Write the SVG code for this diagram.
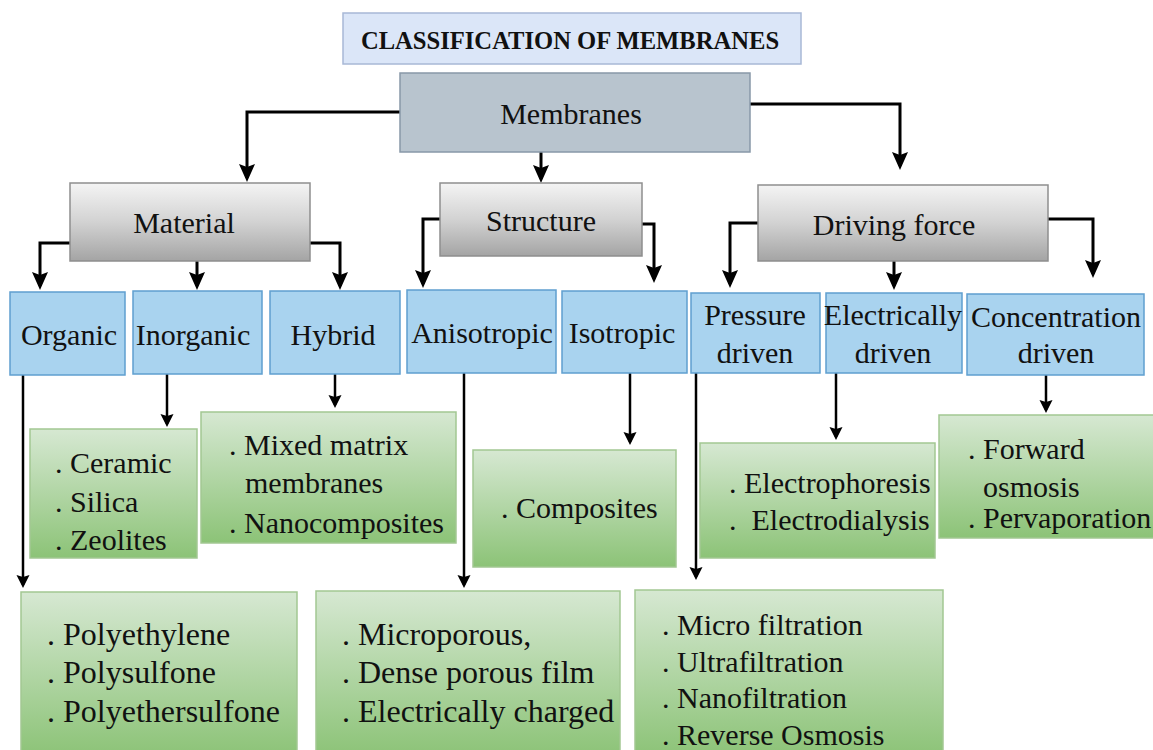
<svg xmlns="http://www.w3.org/2000/svg" width="1153" height="750" viewBox="0 0 1153 750">
<defs>
<linearGradient id="gGray" x1="0" y1="0" x2="0" y2="1">
<stop offset="0" stop-color="#f4f4f4"/><stop offset="0.5" stop-color="#d2d2d2"/><stop offset="1" stop-color="#a4a4a4"/>
</linearGradient>
<linearGradient id="gGreen" x1="0" y1="0" x2="0" y2="1">
<stop offset="0" stop-color="#d6e8d2"/><stop offset="1" stop-color="#8cc377"/>
</linearGradient>
<marker id="aBig" markerUnits="userSpaceOnUse" markerWidth="20" markerHeight="18" refX="14" refY="8" orient="auto">
<path d="M0,0 L18,8 L0,16 L3,8 z" fill="#000"/>
</marker>
<marker id="aSm" markerUnits="userSpaceOnUse" markerWidth="16" markerHeight="14" refX="10" refY="6.5" orient="auto">
<path d="M0,0 L13,6.5 L0,13 L2,6.5 z" fill="#000"/>
</marker>
</defs>
<style>
.t{font-family:"Liberation Serif","Times New Roman",serif;fill:#111}
.title{font-weight:bold;font-size:24.6px}
.gray{fill:url(#gGray);stroke:#8e8e8e;stroke-width:1.5}
.blue{fill:#a9d3ef;stroke:#5f9fcf;stroke-width:1.5}
.green{fill:url(#gGreen);stroke:#a2c792;stroke-width:1.5}
.c30{font-size:30px}
.c29{font-size:30px}
.li{font-size:30px}
.li2{font-size:32px}
.big{fill:none;stroke:#000;stroke-width:3;marker-end:url(#aBig)}
.sm{fill:none;stroke:#000;stroke-width:2.5;marker-end:url(#aSm)}
</style>
<rect width="1153" height="750" fill="#fff"/>

<g id="title">
<rect x="343" y="13" width="458" height="51" fill="#dbe6f8" stroke="#a8b8d6" stroke-width="1.5"/>
<text class="t title" x="570" y="49" text-anchor="middle">CLASSIFICATION OF MEMBRANES</text>
</g>

<g id="connectors">
<path class="big" d="M400,112 H247 V178"/>
<path class="big" d="M541,152 V179"/>
<path class="big" d="M750,104 H900 V166"/>
<path class="big" d="M70,243 H40 V286"/>
<path class="big" d="M197,261 V286"/>
<path class="big" d="M310,243 H340 V286"/>
<path class="big" d="M440,219 H423 V284"/>
<path class="big" d="M642,224 H654 V279"/>
<path class="big" d="M758,223 H730 V284"/>
<path class="big" d="M894,261 V286"/>
<path class="big" d="M1048,219 H1093 V274"/>
<path class="sm" d="M23,375 V585"/>
<path class="sm" d="M167,374 V424"/>
<path class="sm" d="M335,374 V405"/>
<path class="sm" d="M464,373 V585"/>
<path class="sm" d="M630,373 V442"/>
<path class="sm" d="M696,373 V577"/>
<path class="sm" d="M836,373 V437"/>
<path class="sm" d="M1046,375 V410"/>
</g>

<g id="membranes">
<rect x="400" y="73" width="350" height="79" fill="#b8c4ce" stroke="#8898a8" stroke-width="1.5"/>
<text class="t c30" x="571" y="124" text-anchor="middle">Membranes</text>
</g>

<g id="material">
<rect class="gray" x="70" y="183" width="240" height="78"/>
<text class="t c30" x="184" y="233" text-anchor="middle">Material</text>
</g>
<g id="structure">
<rect class="gray" x="440" y="183" width="202" height="73"/>
<text class="t c30" x="541" y="231" text-anchor="middle">Structure</text>
</g>
<g id="driving-force">
<rect class="gray" x="758" y="185" width="290" height="76"/>
<text class="t c30" x="894" y="235" text-anchor="middle">Driving force</text>
</g>

<g id="organic">
<rect class="blue" x="10" y="292" width="115" height="83"/>
<text class="t c29" x="69" y="345" text-anchor="middle">Organic</text>
</g>
<g id="inorganic">
<rect class="blue" x="133" y="291" width="129" height="83"/>
<text class="t c29" x="193" y="345" text-anchor="middle">Inorganic</text>
</g>
<g id="hybrid">
<rect class="blue" x="270" y="291" width="130" height="83"/>
<text class="t c29" x="333" y="345" text-anchor="middle">Hybrid</text>
</g>
<g id="anisotropic">
<rect class="blue" x="407" y="290" width="149" height="83"/>
<text class="t c29" x="482" y="343" text-anchor="middle">Anisotropic</text>
</g>
<g id="isotropic">
<rect class="blue" x="562" y="291" width="125" height="82"/>
<text class="t c29" x="622" y="343" text-anchor="middle">Isotropic</text>
</g>
<g id="pressure-driven">
<rect class="blue" x="691" y="293" width="129" height="80"/>
<text class="t c29" x="755" y="325" text-anchor="middle">Pressure</text>
<text class="t c29" x="755" y="363" text-anchor="middle">driven</text>
</g>
<g id="electrically-driven">
<rect class="blue" x="826" y="293" width="136" height="80"/>
<text class="t c29" x="893" y="325" text-anchor="middle">Electrically</text>
<text class="t c29" x="893" y="363" text-anchor="middle">driven</text>
</g>
<g id="concentration-driven">
<rect class="blue" x="967" y="294" width="177" height="81"/>
<text class="t c29" x="1056" y="327" text-anchor="middle">Concentration</text>
<text class="t c29" x="1056" y="363" text-anchor="middle">driven</text>
</g>

<g id="inorganic-list">
<rect class="green" x="30" y="429" width="167" height="129"/>
<text class="t li" x="55" y="473">. Ceramic</text>
<text class="t li" x="55" y="512">. Silica</text>
<text class="t li" x="55" y="550">. Zeolites</text>
</g>
<g id="hybrid-list">
<rect class="green" x="201" y="412" width="255" height="131"/>
<text class="t li" x="229" y="455">. Mixed matrix</text>
<text class="t li" x="245" y="493">membranes</text>
<text class="t li" x="229" y="533">. Nanocomposites</text>
</g>
<g id="isotropic-list">
<rect class="green" x="473" y="450" width="203" height="117"/>
<text class="t li" x="501" y="518">. Composites</text>
</g>
<g id="electrically-list">
<rect class="green" x="700" y="443" width="235" height="115"/>
<text class="t li" x="729" y="493">. Electrophoresis</text>
<text class="t li" x="729" y="530" style="white-space:pre">.  Electrodialysis</text>
</g>
<g id="concentration-list">
<rect class="green" x="939" y="415" width="220" height="123"/>
<text class="t li" x="968" y="459">. Forward</text>
<text class="t li" x="983" y="497">osmosis</text>
<text class="t li" x="968" y="528">. Pervaporation</text>
</g>
<g id="organic-list">
<rect class="green" x="21" y="592" width="276" height="164"/>
<text class="t li2" x="47" y="645">. Polyethylene</text>
<text class="t li2" x="47" y="683">. Polysulfone</text>
<text class="t li2" x="47" y="722">. Polyethersulfone</text>
</g>
<g id="anisotropic-list">
<rect class="green" x="316" y="591" width="304" height="165"/>
<text class="t li2" x="342" y="645">. Microporous,</text>
<text class="t li2" x="342" y="683">. Dense porous film</text>
<text class="t li2" x="342" y="722">. Electrically charged</text>
</g>
<g id="pressure-list">
<rect class="green" x="635" y="590" width="308" height="166"/>
<text class="t li" x="662" y="635">. Micro filtration</text>
<text class="t li" x="662" y="672">. Ultrafiltration</text>
<text class="t li" x="662" y="708">. Nanofiltration</text>
<text class="t li" x="662" y="745">. Reverse Osmosis</text>
</g>
</svg>
